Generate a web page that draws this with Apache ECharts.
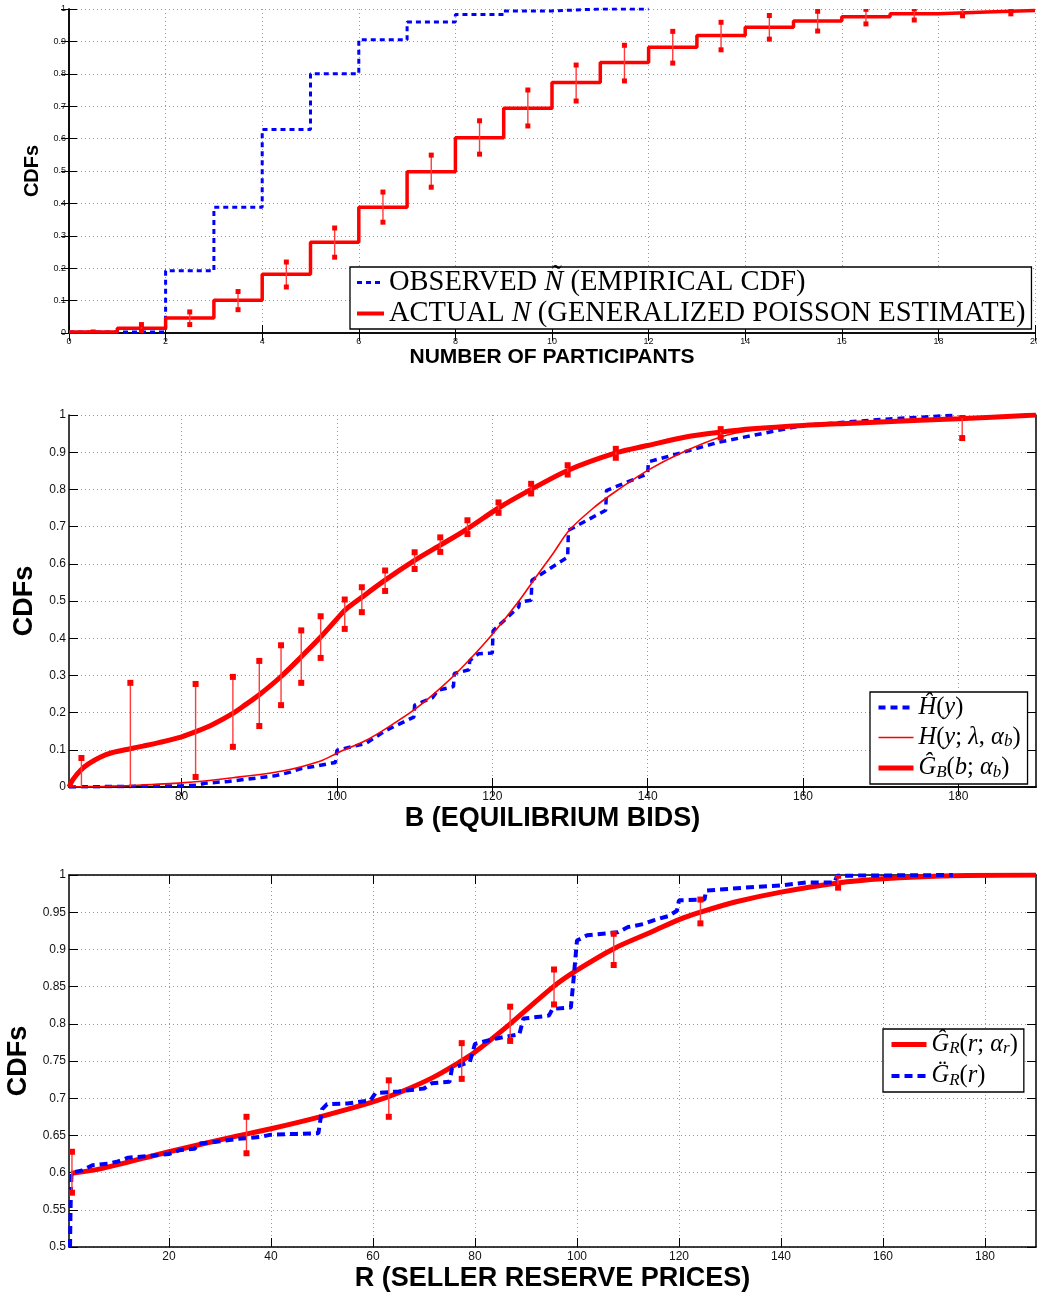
<!DOCTYPE html>
<html>
<head>
<meta charset="utf-8">
<script src="https://cdn.jsdelivr.net/npm/echarts@6/dist/echarts.min.js"></script>
<style>html,body{margin:0;padding:0;background:#fff;}#c{width:1037px;height:1295px;}</style>
</head>
<body>
<div id="c"></div>
<script>
// ---------- Panel 1: number of participants ----------
const obsX = [0, 1, 2, 3, 4, 5, 6, 7, 8, 9, 10, 11, 12];
const obsY = [0.003, 0.003, 0.192, 0.388, 0.628, 0.800, 0.905, 0.960, 0.983, 0.994, 1.0, 1.0, 1.0];
const actX = [0, 1, 2, 3, 4, 5, 6, 7, 8, 9, 10, 11, 12, 13, 14, 15, 16, 17, 18, 19, 20];
const actY = [0.003, 0.015, 0.046, 0.101, 0.181, 0.280, 0.388, 0.498, 0.603, 0.694, 0.773, 0.835, 0.882, 0.918, 0.944, 0.963, 0.976, 0.985, 0.991, 0.995, 0.995];
const actErrX = [0.5, 1.5, 2.5, 3.5, 4.5, 5.5, 6.5, 7.5, 8.5, 9.5, 10.5, 11.5, 12.5, 13.5, 14.5, 15.5, 16.5, 17.5, 18.5, 19.5];
const actErrLo = [0.002, 0.005, 0.026, 0.072, 0.142, 0.234, 0.342, 0.450, 0.552, 0.639, 0.716, 0.778, 0.833, 0.874, 0.907, 0.932, 0.954, 0.966, 0.979, 0.985];
const actErrHi = [0.003, 0.026, 0.065, 0.128, 0.219, 0.324, 0.435, 0.549, 0.655, 0.750, 0.827, 0.888, 0.931, 0.959, 0.980, 0.993, 0.999, 1.0, 1.004, 1.0];

// ---------- Panel 2: equilibrium bids ----------
const gbX = [65.5, 66, 67, 68, 69.5, 71, 73.4, 75, 77.2, 80, 82, 84, 86.6, 88, 90, 92.8, 95.4, 97.9, 100, 101, 103.2, 106.2, 110, 113.3, 116.8, 120.8, 125, 129.7, 135.9, 140, 144.9, 149.4, 153.5, 160, 166.4, 175, 180, 190];
const gbY = [0, 0.02, 0.045, 0.062, 0.08, 0.092, 0.103, 0.11, 0.12, 0.135, 0.15, 0.168, 0.198, 0.218, 0.248, 0.297, 0.35, 0.403, 0.452, 0.475, 0.51, 0.556, 0.609, 0.65, 0.694, 0.75, 0.80, 0.851, 0.898, 0.918, 0.941, 0.954, 0.963, 0.972, 0.978, 0.986, 0.99, 1.0];
const hX = [65.5, 70, 73.4, 80, 86.6, 93, 97.9, 100, 103.7, 106.3, 110.1, 113.5, 116.5, 119.9, 123.5, 125.3, 127.8, 129.9, 132.9, 135.5, 140, 144.1, 149.4, 153.5, 160, 170, 180, 190];
const hY = [0, 0.002, 0.004, 0.011, 0.025, 0.043, 0.07, 0.091, 0.125, 0.157, 0.21, 0.269, 0.33, 0.408, 0.502, 0.555, 0.627, 0.69, 0.748, 0.789, 0.851, 0.896, 0.941, 0.959, 0.972, 0.982, 0.99, 1.0];
const hHatX = [65.5, 70, 75, 80, 82, 83, 86, 88, 90, 92, 94, 95.5, 97, 99.8, 100, 103.7, 106.3, 109.9, 110, 112.3, 113, 115, 115.1, 117, 117.1, 118.2, 120, 120.1, 123.4, 123.5, 125, 125.1, 129.7, 129.8, 134.6, 134.7, 140, 140.1, 149.2, 160, 170, 179.3];
const hHatY = [0, 0.001, 0.002, 0.003, 0.005, 0.01, 0.015, 0.02, 0.025, 0.03, 0.04, 0.05, 0.055, 0.066, 0.099, 0.117, 0.152, 0.188, 0.22, 0.24, 0.26, 0.27, 0.305, 0.315, 0.34, 0.358, 0.36, 0.42, 0.484, 0.497, 0.502, 0.556, 0.618, 0.69, 0.744, 0.797, 0.842, 0.874, 0.927, 0.972, 0.988, 0.999];
const gbErrX = [67.1, 73.4, 81.8, 86.6, 90, 92.8, 95.4, 97.9, 101, 103.2, 106.2, 110, 113.3, 116.8, 120.8, 125, 129.7, 135.9, 149.4, 180.5];
const gbErrLo = [-0.03, -0.03, 0.027, 0.108, 0.164, 0.22, 0.28, 0.347, 0.425, 0.47, 0.527, 0.586, 0.632, 0.68, 0.737, 0.789, 0.84, 0.885, 0.94, 0.938];
const gbErrHi = [0.078, 0.28, 0.277, 0.296, 0.339, 0.381, 0.421, 0.459, 0.504, 0.537, 0.582, 0.631, 0.671, 0.717, 0.765, 0.815, 0.865, 0.909, 0.962, 0.999];
const p2XTicks = [80, 100, 120, 140, 160, 180];

// ---------- Panel 3: seller reserve prices ----------
const grX = [0.8, 6.5, 20, 32.6, 40, 49.6, 60, 65.3, 71.8, 77.1, 80, 86.9, 95.2, 100, 107.2, 114.8, 120, 124.2, 131.2, 140, 150.8, 160, 173.7, 190];
const grY = [0.599, 0.605, 0.628, 0.648, 0.659, 0.675, 0.695, 0.708, 0.728, 0.749, 0.762, 0.80, 0.849, 0.872, 0.901, 0.924, 0.94, 0.95, 0.964, 0.977, 0.989, 0.995, 0.999, 1.0];
const grDX = [0.6, 0.7, 0.8, 0.9, 3, 5, 8, 10, 12, 17, 20, 22, 25, 26, 30, 33, 38, 40, 45, 49.3, 50, 51, 55, 59.5, 60.5, 65, 70, 71.5, 75, 75.5, 79, 80, 84, 88.7, 89.5, 94.5, 95.2, 98.8, 99.2, 100, 102, 108, 110, 113, 115, 118, 119.6, 120, 125, 125.3, 135, 140, 145, 150.5, 151, 173.7];
const grDY = [0.5, 0.55, 0.58, 0.6, 0.603, 0.61, 0.612, 0.615, 0.62, 0.623, 0.625, 0.63, 0.632, 0.639, 0.642, 0.645, 0.648, 0.651, 0.652, 0.653, 0.685, 0.692, 0.693, 0.697, 0.707, 0.709, 0.713, 0.72, 0.722, 0.74, 0.749, 0.773, 0.78, 0.786, 0.807, 0.811, 0.82, 0.822, 0.85, 0.912, 0.919, 0.923, 0.93, 0.934, 0.939, 0.945, 0.952, 0.966, 0.967, 0.979, 0.984, 0.986, 0.99, 0.99, 0.999, 1.0];
const grErrX = [0.98, 35.2, 63.1, 77.4, 86.9, 95.5, 107.2, 124.2, 151.2];
const grErrLo = [0.573, 0.626, 0.675, 0.726, 0.777, 0.826, 0.879, 0.935, 0.983];
const grErrHi = [0.628, 0.675, 0.724, 0.774, 0.823, 0.873, 0.921, 0.967, 0.999];
const p3XTicks = [20, 40, 60, 80, 100, 120, 140, 160, 180];

// ---------- helpers ----------
const zip = (xs, ys) => xs.map((x, i) => [x, ys[i]]);
const SANS = 'Liberation Sans, Arial, sans-serif';
const SERIF = 'Liberation Serif, Times New Roman, serif';
const GRID_LINE = { show: true, lineStyle: { color: '#9a9a9a', width: 1, type: [1, 3] } };

function xAxes(gi, min, max, interval, ticks, fs, name, nameSize, nameGap, tickLen) {
  const base = { type: 'value', gridIndex: gi, min: min, max: max };
  if (interval) base.interval = interval;
  const main = Object.assign({}, base, {
    position: 'bottom',
    axisLine: { show: true, lineStyle: { color: '#000', width: 1.5 } },
    axisTick: { show: true, inside: true, length: tickLen, lineStyle: { color: '#000', width: 1 } },
    axisLabel: { show: true, color: '#111', fontFamily: SANS, fontSize: fs, margin: 4, showMinLabel: true, showMaxLabel: true, hideOverlap: false },
    splitLine: GRID_LINE,
    name: name, nameLocation: 'middle', nameGap: nameGap,
    nameTextStyle: { fontFamily: SANS, fontWeight: 'bold', fontSize: nameSize, color: '#000' }
  });
  const top = Object.assign({}, base, {
    position: 'top',
    axisLine: { show: true, lineStyle: { color: '#000', width: 1.5 } },
    axisTick: { show: true, inside: true, length: tickLen, lineStyle: { color: '#000', width: 1 } },
    axisLabel: { show: false }, splitLine: { show: false }
  });
  if (ticks) {
    main.axisTick.customValues = ticks; main.axisLabel.customValues = ticks;
    top.axisTick.customValues = ticks;
  }
  return [main, top];
}
function yAxes(gi, min, max, interval, fs, nameSize, nameGap, tickLen) {
  const base = { type: 'value', gridIndex: gi, min: min, max: max, interval: interval };
  const main = Object.assign({}, base, {
    position: 'left',
    axisLine: { show: true, lineStyle: { color: '#000', width: 1.5 } },
    axisTick: { show: true, inside: true, length: tickLen, lineStyle: { color: '#000', width: 1 } },
    axisLabel: { show: true, color: '#111', fontFamily: SANS, fontSize: fs, margin: 3 },
    splitLine: GRID_LINE,
    name: 'CDFs', nameLocation: 'middle', nameGap: nameGap, nameRotate: 90,
    nameTextStyle: { fontFamily: SANS, fontWeight: 'bold', fontSize: nameSize, color: '#000' }
  });
  const right = Object.assign({}, base, {
    position: 'right',
    axisLine: { show: true, lineStyle: { color: '#000', width: 1.5 } },
    axisTick: { show: true, inside: true, length: tickLen, lineStyle: { color: '#000', width: 1 } },
    axisLabel: { show: false }, splitLine: { show: false }
  });
  return [main, right];
}
function errSeries(xi, yi, xs, lo, hi, sq) {
  return {
    type: 'custom', xAxisIndex: xi, yAxisIndex: yi, clip: true, z: 6, silent: true,
    data: xs.map((x, i) => [x, lo[i], hi[i]]),
    encode: { x: 0, y: [1, 2] },
    renderItem: function (params, api) {
      const a = api.coord([api.value(0), api.value(1)]);
      const b = api.coord([api.value(0), api.value(2)]);
      return {
        type: 'group', children: [
          { type: 'line', shape: { x1: a[0], y1: a[1], x2: b[0], y2: b[1] }, style: { stroke: '#ff3b3b', lineWidth: 1.4 } },
          { type: 'rect', shape: { x: a[0] - sq / 2, y: a[1] - sq / 2, width: sq, height: sq }, style: { fill: '#ff0000' } },
          { type: 'rect', shape: { x: b[0] - sq / 2, y: b[1] - sq / 2, width: sq, height: sq }, style: { fill: '#ff0000' } }
        ]
      };
    }
  };
}
function lineSeries(name, xi, yi, data, color, width, type, extra) {
  return Object.assign({
    name: name, type: 'line', xAxisIndex: xi, yAxisIndex: yi, data: data,
    symbol: 'none', silent: true, animation: false,
    lineStyle: { color: color, width: width, type: type },
    itemStyle: { color: color }
  }, extra || {});
}

const x1 = xAxes(0, 0, 20, 2, null, 9, 'NUMBER OF PARTICIPANTS', 21, 12, 8);
const x2 = xAxes(1, 65.5, 190, null, p2XTicks, 12, 'B (EQUILIBRIUM BIDS)', 27, 18, 9);
const x3 = xAxes(2, 0.4, 190, null, p3XTicks, 12, 'R (SELLER RESERVE PRICES)', 27, 18, 9);
const y1 = yAxes(0, 0, 1, 0.1, 9, 20, 22, 8);
const y2 = yAxes(1, 0, 1, 0.1, 12, 27, 29, 9);
const y3 = yAxes(2, 0.5, 1, 0.05, 12, 27, 34, 9);

const legendNames = {
  obs: 'OBSERVED {i|Ñ} (EMPIRICAL CDF)',
  act: 'ACTUAL {i|N} (GENERALIZED POISSON ESTIMATE)',
  Hhat: '{i|Ĥ}({i|y})',
  H: '{i|H}({i|y}; {i|λ}, {i|α}{s|b})',
  GB: '{i|Ĝ}{s|B}({i|b}; {i|α}{s|b})',
  GR: '{i|Ĝ}{s|R}({i|r}; {i|α}{s|r})',
  GRdd: '{i|G̈}{s|R}({i|r})'
};
function legendCfg(left, top, items, fs, iw, gap, pad) {
  return {
    orient: 'vertical', left: left, top: top, data: items,
    itemWidth: iw, itemHeight: 14, itemGap: gap, selectedMode: false,
    borderColor: '#000', borderWidth: 1.3, backgroundColor: '#fff', borderRadius: 0,
    padding: pad, itemStyle: { opacity: 0 },
    formatter: n => legendNames[n],
    textStyle: {
      fontFamily: SERIF, fontSize: fs, color: '#000',
      rich: {
        i: { fontFamily: SERIF, fontStyle: 'italic', fontSize: fs, color: '#000' },
        s: { fontFamily: SERIF, fontStyle: 'italic', fontSize: Math.round(fs * 0.68), color: '#000', padding: [Math.round(fs * 0.36), 0, 0, 0] }
      }
    }
  };
}

const option = {
  animation: false,
  backgroundColor: '#fff',
  grid: [
    { left: 69, top: 9, width: 966, height: 324, outerBoundsMode: 'none', containLabel: false },
    { left: 69, top: 415, width: 967, height: 372, outerBoundsMode: 'none', containLabel: false },
    { left: 69, top: 875, width: 967, height: 372, outerBoundsMode: 'none', containLabel: false }
  ],
  xAxis: [x1[0], x1[1], x2[0], x2[1], x3[0], x3[1]],
  yAxis: [y1[0], y1[1], y2[0], y2[1], y3[0], y3[1]],
  legend: [
    legendCfg(350, 267, [
      { name: 'obs', lineStyle: { width: 3, type: [5, 4] } },
      { name: 'act', lineStyle: { width: 4 } }
    ], 28.5, 27, 2, [1, 6, 1, 5]),
    legendCfg(870, 692, [
      { name: 'Hhat', lineStyle: { width: 4, type: [7, 5] } },
      { name: 'H', lineStyle: { width: 1.6 } },
      { name: 'GB', lineStyle: { width: 5 } }
    ], 24.5, 35, 5, [3, 7, 3, 6]),
    legendCfg(883, 1029, [
      { name: 'GR', lineStyle: { width: 5 } },
      { name: 'GRdd', lineStyle: { width: 4, type: [8, 5] } }
    ], 24.5, 35, 6, [3, 6, 3, 6])
  ],
  series: [
    lineSeries('obs', 0, 0, zip(obsX, obsY), '#0000ff', 3, [5, 4], { step: 'end', z: 2 }),
    lineSeries('act', 0, 0, zip(actX, actY), '#ff0000', 3.5, 'solid', { step: 'end', z: 3 }),
    errSeries(0, 0, actErrX, actErrLo, actErrHi, 5),

    lineSeries('Hhat', 2, 2, zip(hHatX, hHatY), '#0000ff', 3.5, [7, 5], { z: 2 }),
    lineSeries('H', 2, 2, zip(hX, hY), '#ff0000', 1.6, 'solid', { smooth: 0.3, z: 3 }),
    lineSeries('GB', 2, 2, zip(gbX, gbY), '#ff0000', 5, 'solid', { smooth: 0.3, z: 4 }),
    errSeries(2, 2, gbErrX, gbErrLo, gbErrHi, 6),

    lineSeries('GR', 4, 4, zip(grX, grY), '#ff0000', 5, 'solid', { smooth: 0.3, z: 3 }),
    lineSeries('GRdd', 4, 4, zip(grDX, grDY), '#0000ff', 4, [8, 5], { z: 4 }),
    errSeries(4, 4, grErrX, grErrLo, grErrHi, 6)
  ]
};
const chart = echarts.init(document.getElementById('c'), null, { renderer: 'canvas' });
chart.setOption(option);
</script>
</body>
</html>
